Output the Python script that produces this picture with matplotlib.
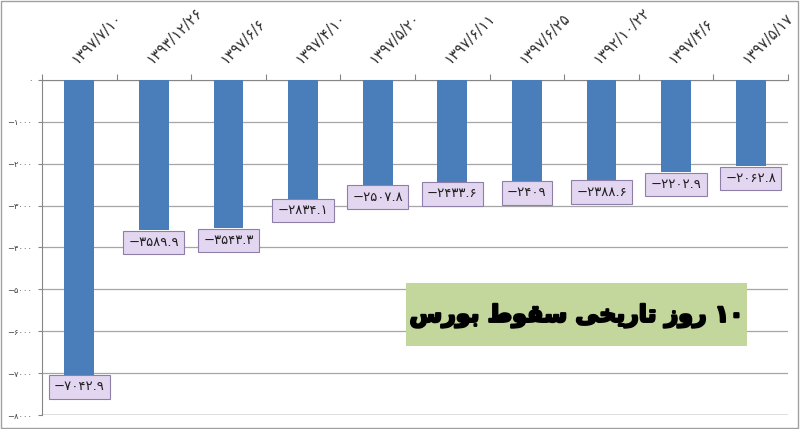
import matplotlib
matplotlib.use('Agg')
import matplotlib.pyplot as plt
import matplotlib.patheffects as pe
from matplotlib.patches import Rectangle

plt.rcParams['font.family'] = ['DejaVu Sans']

# data
DATES = ['1397/7/10', '1393/12/26', '1397/6/6', '1397/4/10', '1397/5/20',
         '1397/6/11', '1397/6/25', '1392/10/22', '1397/4/6', '1397/5/17']
VALUES = [-7042.9, -3589.9, -3543.3, -2834.1, -2507.8,
          -2433.6, -2409, -2388.6, -2202.9, -2062.8]
YTICKS = [0, -1000, -2000, -3000, -4000, -5000, -6000, -7000, -8000]
# "۱۰ روز تاریخی سقوط بورس" shaped by hand, in visual order
TITLE = ('\uFEB1\uFEAD\uFEEE\uFE91 \uFEC1\uFEEE\uFED8\uFEB3 '
         '\uFBFD\uFEA8\uFBFE\uFEAD\uFE8E\uFE97 \uFEAF\uFEED\uFEAD \u06F1\u06F0')

FA = str.maketrans('0123456789', '\u06F0\u06F1\u06F2\u06F3\u06F4\u06F5\u06F6\u06F7\u06F8\u06F9')

def fa(s):
    return str(s).translate(FA)

def fa_num(v):
    txt = f'{abs(v):g}'
    return ('\u2212' if v < 0 else '') + fa(txt)

fig = plt.figure(figsize=(8, 4.29), dpi=100)
ax = fig.add_axes([0.0525, 0.0326, 0.9325, 0.781])

x = range(len(VALUES))
ax.bar(x, VALUES, width=0.4, color='#4a7ebb', zorder=3)
ax.set_xlim(-0.5, len(VALUES) - 0.5)
ax.set_ylim(-8000, 0)

# grid and axes
ax.set_yticks(YTICKS)
ax.set_yticklabels([fa_num(v) if v else fa('0') for v in YTICKS], fontsize=6, color='#404040')
ax.yaxis.grid(True, color='#a6a6a6', lw=0.9, zorder=0)
ax.tick_params(axis='y', length=3, color='#868686', pad=4)
for s in ['right', 'bottom']:
    ax.spines[s].set_visible(False)
ax.spines['left'].set_color('#868686')
ax.spines['top'].set_color('#868686')
ax.axhline(-8000, color='#868686', lw=1, zorder=1)

# category ticks on top, between categories
ax.xaxis.tick_top()
ax.set_xticks([i - 0.5 for i in range(len(VALUES) + 1)])
ax.set_xticklabels([])
ax.tick_params(axis='x', length=4, color='#868686', direction='out')

for i, d in enumerate(DATES):
    ax.text(i, 330, fa(d), rotation=45, ha='left', va='bottom',
            fontsize=10.5, color='#303030', rotation_mode='anchor')

# data labels
for i, v in enumerate(VALUES):
    ax.annotate(fa_num(v), (i, v), xytext=(0, -4), textcoords='offset points',
                ha='center', va='top', fontsize=9.5, color='#202020', zorder=5,
                bbox=dict(boxstyle='square,pad=0.4', fc='#e3d6f1', ec='#8e7fa8', lw=0.8))

# title box
ax.add_patch(Rectangle((0.4885, 0.206), 0.457, 0.188, transform=ax.transAxes,
                       fc='#c3d69b', ec='none', zorder=6))
ax.text(0.717, 0.296, TITLE, transform=ax.transAxes, ha='center', va='center',
        fontsize=17, fontweight='bold', color='black', zorder=7,
        path_effects=[pe.withStroke(linewidth=1.6, foreground='black')])

fig.patches.append(Rectangle((0.001, 0.002), 0.997, 0.996, transform=fig.transFigure,
                             fill=False, ec='#a0a0a0', lw=1))

fig.savefig('out.png', dpi=100)
